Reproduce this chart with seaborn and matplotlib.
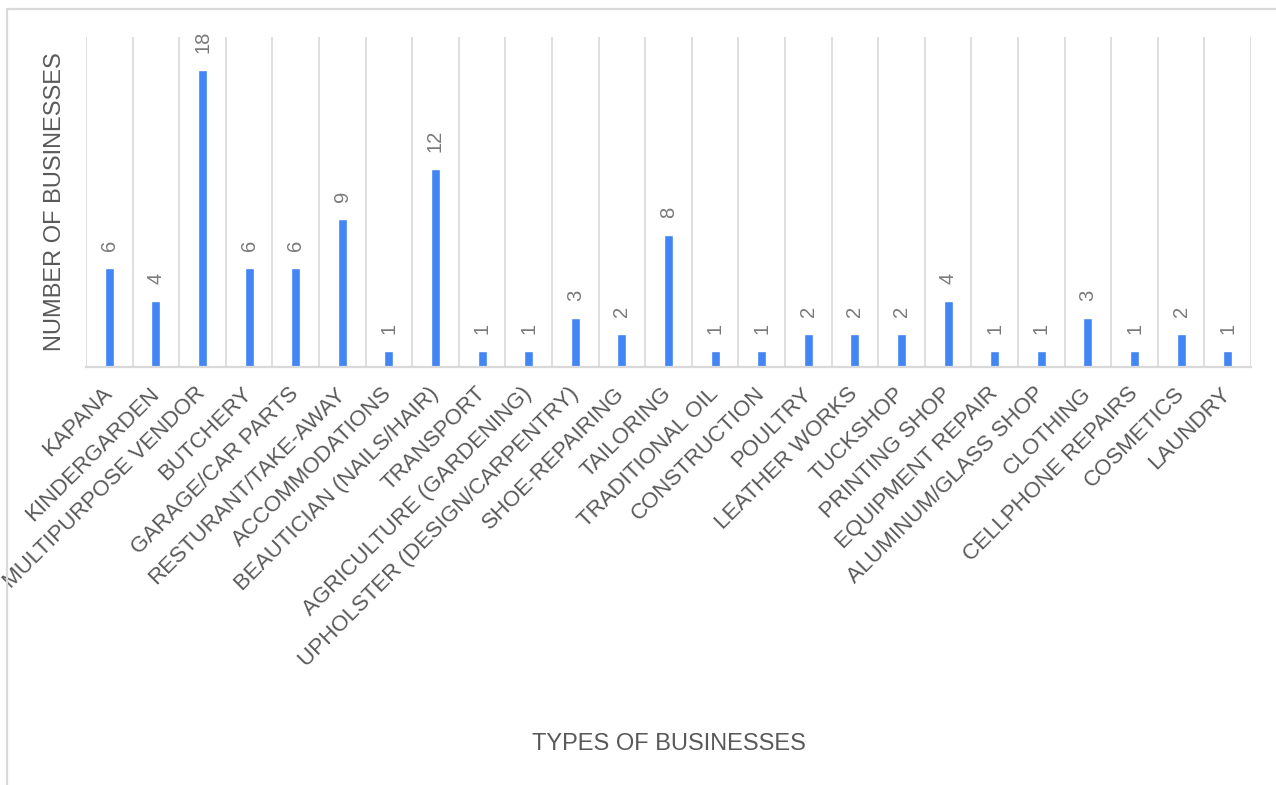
import numpy as np
import pandas as pd
import matplotlib
matplotlib.use("Agg")
import matplotlib.pyplot as plt
from matplotlib.lines import Line2D
import seaborn as sns

# Business survey counts
categories = [
    "KAPANA", "KINDERGARDEN", "MULTIPURPOSE VENDOR", "BUTCHERY",
    "GARAGE/CAR PARTS", "RESTURANT/TAKE-AWAY", "ACCOMMODATIONS",
    "BEAUTICIAN (NAILS/HAIR)", "TRANSPORT", "AGRICULTURE (GARDENING)",
    "UPHOLSTER (DESIGN/CARPENTRY)", "SHOE-REPAIRING", "TAILORING",
    "TRADITIONAL OIL", "CONSTRUCTION", "POULTRY", "LEATHER WORKS",
    "TUCKSHOP", "PRINTING SHOP", "EQUIPMENT REPAIR", "ALUMINUM/GLASS SHOP",
    "CLOTHING", "CELLPHONE REPAIRS", "COSMETICS", "LAUNDRY",
]
counts = [6, 4, 18, 6, 6, 9, 1, 12, 1, 1, 3, 2, 8, 1, 1, 2, 2, 2, 4, 1, 1, 3, 1, 2, 1]

x_title = "TYPES OF BUSINESSES"
y_title = "NUMBER OF BUSINESSES"

df = pd.DataFrame({"business": categories, "count": counts})

sns.set_theme(style="white")
plt.rcParams["font.family"] = ["Liberation Sans", "DejaVu Sans"]

BLUE = "#4285F4"
GRID = "#d9d9d9"
TEXT = "#595959"
VALUE = "#7a7a7a"

W, H = 1276, 785
fig = plt.figure(figsize=(W / 100, H / 100), dpi=100)
ax = fig.add_axes([86 / W, 1 - 367 / H, (1251 - 86) / W, (367 - 37) / H])

sns.barplot(data=df, x="business", y="count", color=BLUE, width=0.19,
            saturation=1, ax=ax)

ax.set_ylim(0, 20)
ax.set_xlim(-0.5, len(categories) - 0.5)
ax.set_yticks([])

# category separators
ax.set_xticks(np.arange(-0.5, len(categories)), minor=True)
ax.grid(which="minor", axis="x", color=GRID, linewidth=1.2)
ax.grid(which="major", visible=False)
ax.tick_params(axis="x", which="both", length=0)
ax.tick_params(axis="x", which="major", pad=17)

for side in ["top", "right", "left"]:
    ax.spines[side].set_visible(False)
ax.spines["bottom"].set_color(GRID)
ax.spines["bottom"].set_linewidth(1.6)

ax.set_xticks(range(len(categories)))
ax.set_xticklabels(categories, rotation=45, ha="right", va="center",
                   rotation_mode="anchor", fontsize=16, color=TEXT)

# value labels above each bar
for bar, val in zip(ax.patches, counts):
    ax.annotate(str(val), (bar.get_x() + bar.get_width() / 2, bar.get_height()),
                xytext=(0, 12), textcoords="offset points",
                rotation=90, ha="center", va="bottom",
                fontsize=14.5, color=VALUE)

ax.set_xlabel(x_title, fontsize=17, color=TEXT)
ax.set_ylabel(y_title, fontsize=17, color=TEXT)
ax.xaxis.set_label_coords(0.5, (367 - 744) / 330)
ax.xaxis.label.set_va("center")
ax.yaxis.set_label_coords((55 - 86) / 1165, 0.5)
ax.yaxis.label.set_va("center")

# outer chart frame
fig.add_artist(Line2D([7 / W, 7 / W], [0, 1 - 9 / H], color=GRID, linewidth=1.6,
                      transform=fig.transFigure))
fig.add_artist(Line2D([7 / W, 1], [1 - 9 / H, 1 - 9 / H], color=GRID, linewidth=1.6,
                      transform=fig.transFigure))

fig.savefig("out.png", dpi=100)
